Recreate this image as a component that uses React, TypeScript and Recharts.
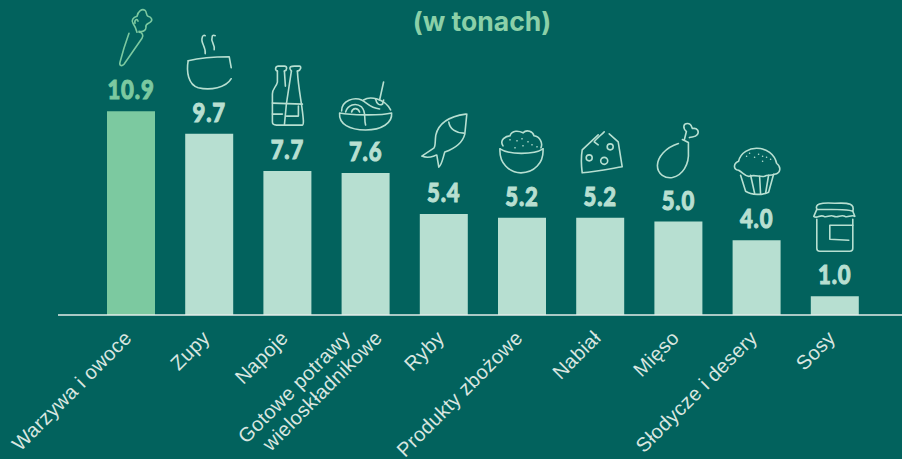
import { BarChart, Bar, XAxis, YAxis, Cell, LabelList } from 'recharts';

const CATEGORIES = [
    ['Warzywa i owoce'],
    ['Zupy'],
    ['Napoje'],
    ['Gotowe potrawy', 'wieloskładnikowe'],
    ['Ryby'],
    ['Produkty zbożowe'],
    ['Nabiał'],
    ['Mięso'],
    ['Słodycze i desery'],
    ['Sosy'],
];
const TONNES = [10.9, 9.7, 7.7, 7.6, 5.4, 5.2, 5.2, 5.0, 4.0, 1.0];

const BG = '#02625d';
const HIGHLIGHT = '#7cc9a0';
const BAR = '#b7dfd1';
const AXIS_TEXT = '#d9e6e0';

const data = CATEGORIES.map((lines, i) => ({ name: lines.join('|'), value: TONNES[i] }));

// icons are traced around their own bar: [bar centre x, bar top y] is the origin of each drawing
const ICONS = [
    {
        origin: [131, 111],
        paths: [
            'M129,33 C125,44 122,54 120,62 C119,66 122,66 124,64 L142,38 C144,35 142,32 139,32',
            'M137,32 C136,28 135,26 133,23 C131,20 133,17 137,16 C138,11 142,8 145,10 C147,12 146,15 148,16 C152,17 153,20 150,22 C147,24 145,24 146,27 C146,30 143,32 139,31',
            'M135,23 C134,19 138,18 138,21',
        ],
    },
    {
        origin: [209, 134],
        paths: [
            'M188,61 C200,58 215,57 229,57 L231,68',
            'M188,61 C186,72 188,85 198,88 C210,91 226,88 231,79',
            'M205,54 C206,47 200,43 202,38 C202,36 204,35 205,36',
            'M214,50 C215,44 210,42 212,37 C212,36 213,35 215,36',
        ],
    },
    {
        origin: [288, 171],
        paths: [
            'M278,71 C275,70 276,66 279,66 L285,66 C288,66 288,70 285,71',
            'M278,71 L278,82 C277,87 273,88 273,94 L273,122 C273,124 275,125 277,125 L303,125 C304,125 304,123 304,121 C303,105 299,90 298,71',
            'M285,71 L286,86',
            'M292,71 C288,66 293,66 295,66 L300,66 C302,66 302,70 298,71',
            'M292,71 L290,84 C288,95 286,110 285,125',
            'M273,103 L303,104',
            'M273,114 L283,114',
            'M287,116 L299,116 L299,106',
        ],
    },
    {
        origin: [366, 173],
        paths: [
            'M340,113 C350,115 380,116 392,113 C393,123 382,130 366,130 C350,130 339,124 340,113 Z',
            'M342,111 C342,100 355,97 362,100 C368,103 370,108 380,109',
            'M346,112 C348,105 356,102 362,107 C367,112 364,118 366,125',
            'M352,112 C353,108 358,107 360,112',
            'M364,100 C370,96 385,98 391,110',
            'M384,82 L380,100',
            'M376,99 C377,104 380,106 383,104 L384,100',
        ],
    },
    {
        origin: [443, 214],
        paths: [
            'M465,114 C450,116 438,122 435,135 C434,142 435,146 433,148 L421,156 C428,159 432,156 436,155 L438,167 C441,165 442,158 444,152 C455,148 462,142 464,134 L466,114',
            'M448,122 C449,129 455,133 463,133',
        ],
    },
    {
        origin: [523, 218],
        paths: [
            'M501,149 C510,155 535,155 544,149',
            'M501,149 C500,163 510,173 522,173 C535,173 545,163 544,149',
            'M504,146 C500,140 507,136 511,136 C513,130 520,131 524,133 C528,129 534,132 535,136 C541,137 544,143 542,148',
        ],
        dots: [[511, 140], [518, 141], [523, 139], [529, 142], [516, 148], [524, 146], [533, 145], [538, 147]],
    },
    {
        origin: [600, 218],
        paths: [
            'M598,135 L582,150 C581,156 581,165 582,173 C595,172 610,169 622,167 L618,142 L609,134',
            'M604,132 C600,136 596,139 594,142 L598,145',
        ],
        rings: [[589, 158, 3], [604, 161, 3.5], [610, 147, 3]],
    },
    {
        origin: [678, 222],
        paths: [
            'M678,144 C665,148 657,158 657,166 C657,175 665,179 672,178 C682,176 689,165 688,152 L688,143 L682,140',
            'M684,140 L686,132 C682,128 683,124 687,124 C691,124 691,127 692,129 C697,128 699,132 697,135 C695,138 692,137 689,138',
        ],
    },
    {
        origin: [757, 241],
        paths: [
            'M741,176 L746,192 C752,196 763,196 769,193 L774,175',
            'M751,176 L755,194',
            'M760,177 L761,195',
            'M769,176 L766,194',
            'M739,171 C733,170 734,164 739,162 C741,153 750,149 757,149 C767,149 775,155 777,164 C782,168 781,174 775,175 C770,177 768,175 765,177 C760,178 755,175 750,177 C746,178 744,174 739,171',
        ],
        dots: [[747, 157], [750, 154], [755, 158], [759, 155], [763, 162], [767, 158], [771, 160], [763, 157]],
    },
    {
        origin: [835, 297],
        paths: [
            'M817,210 C815,205 820,203 835,204 C850,203 855,205 853,212 C850,210 825,210 817,210',
            'M817,210 L814,217 C817,220 820,215 824,217 C827,219 830,215 834,217 C838,219 841,215 845,217 C848,219 851,215 855,217 L853,212',
            'M817,220 L817,249 C817,251 818,252 820,252 L850,252 C852,252 853,251 853,249 L853,220',
            'M853,226 L830,226 L830,240 L849,241',
        ],
    },
];

function CategoryTick({ x, y, payload }: any) {
    const lines: string[] = payload.value.split('|');
    const shift = 32;
    return (
        <g>
            {lines.map((line, i) => (
                <text
                    key={line}
                    transform={`translate(${x - 2.5 + (i - (lines.length - 1) / 2) * shift},${y + 12}) rotate(-45)`}
                    y={6}
                    textAnchor="end"
                    fontFamily="'Liberation Sans', sans-serif"
                    fontSize={20}
                    letterSpacing={0.3}
                    fill={AXIS_TEXT}
                >
                    {line}
                </text>
            ))}
        </g>
    );
}

function BarTopLabel({ x, y, width, index }: any) {
    const color = index === 0 ? HIGHLIGHT : BAR;
    const cx = x + width / 2;
    const icon = ICONS[index];
    return (
        <g>
            <text
                transform={`translate(${cx},${y - 12}) scale(0.85,1)`}
                textAnchor="middle"
                fontFamily="Lato, sans-serif"
                fontWeight={900}
                fontSize={26}
                letterSpacing={1}
                stroke={color}
                strokeWidth={1}
                fill={color}
            >
                {TONNES[index].toFixed(1)}
            </text>
            <g
                transform={`translate(${cx - icon.origin[0]},${y - icon.origin[1]})`}
                fill="none"
                stroke={color}
                strokeWidth={1.6}
                strokeLinecap="round"
                strokeLinejoin="round"
            >
                {icon.paths.map((d) => (
                    <path key={d} d={d} />
                ))}
                {(icon.rings || []).map(([rx, ry, r]) => (
                    <circle key={rx} cx={rx} cy={ry} r={r} />
                ))}
                {(icon.dots || []).map(([dx, dy]) => (
                    <circle key={dx * 1000 + dy} cx={dx} cy={dy} r={0.8} fill={color} stroke="none" />
                ))}
            </g>
        </g>
    );
}

export default function App() {
    return (
        <div style={{ position: 'absolute', left: 0, top: 0, width: 902, height: 459, background: BG, overflow: 'hidden' }}>
            <div
                style={{
                    position: 'absolute',
                    left: 0,
                    width: 964,
                    top: 5,
                    textAlign: 'center',
                    fontFamily: 'Inter, sans-serif',
                    fontWeight: 700,
                    fontSize: 26.5,
                    lineHeight: '32px',
                    color: '#8bd0a8',
                }}
            >
                (w tonach)
            </div>
            <BarChart
                width={902}
                height={459}
                data={data}
                margin={{ top: 16, right: 0, bottom: 0, left: 58 }}
            >
                <YAxis hide domain={[0, 16]} />
                <XAxis
                    dataKey="name"
                    height={144}
                    interval={0}
                    padding={{ left: 34, right: 28 }}
                    axisLine={{ stroke: '#e3ece8', strokeWidth: 1.5 }}
                    tickLine={false}
                    tick={<CategoryTick />}
                />
                <Bar dataKey="value" barSize={48} isAnimationActive={false}>
                    {data.map((d, i) => (
                        <Cell key={d.name} fill={i === 0 ? HIGHLIGHT : BAR} />
                    ))}
                    <LabelList dataKey="value" content={<BarTopLabel />} />
                </Bar>
            </BarChart>
        </div>
    );
}
